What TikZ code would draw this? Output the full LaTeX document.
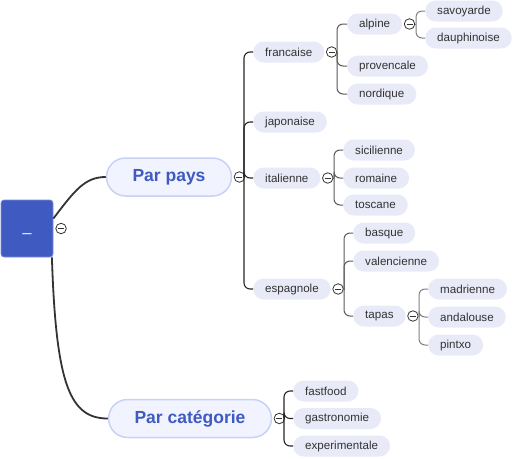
\documentclass[tikz,border=0pt]{standalone}
\usepackage{fontspec}
\setmainfont{Liberation Sans}
\definecolor{rootblue}{HTML}{3F5AC0}
\definecolor{rootedge}{HTML}{7F8FD8}
\definecolor{mainfill}{HTML}{F1F3FE}
\definecolor{mainedge}{HTML}{C8D1F6}
\definecolor{pillfill}{HTML}{E8EAF8}
\definecolor{txt}{HTML}{333333}
\begin{document}
\begin{tikzpicture}[x=1pt,y=-1pt,
  rootbox/.style={draw=rootedge, line width=0.8pt, fill=rootblue, rounded corners=3pt, minimum width=52pt, minimum height=57pt, text=white, font=\fontsize{16}{18}\selectfont, inner sep=0pt},
  mainbox/.style={draw=mainedge, line width=1.5pt, fill=mainfill, rounded corners=19pt, minimum height=38pt, inner xsep=26pt, text=rootblue, font=\fontsize{17.5}{20}\selectfont\bfseries},
  pill/.style={fill=pillfill, rounded corners=10.5pt, minimum height=21pt, inner xsep=12pt, inner ysep=0pt, text=txt, font=\fontsize{11.6}{13}\selectfont, anchor=west},
  collapse/.style={circle, draw=txt, line width=0.8pt, fill=white, minimum size=10.5pt, inner sep=0pt,
    path picture={\draw[line width=1pt] ([xshift=-3pt]path picture bounding box.center) -- ([xshift=3pt]path picture bounding box.center);}},
  rootline/.style={draw=txt, line width=1.8pt},
  lvltwo/.style={draw=black!85, line width=1.1pt, rounded corners=6pt},
  lvlthree/.style={draw=black!65, line width=1pt, rounded corners=6pt},
  lvlfour/.style={draw=black!50, line width=1pt, rounded corners=6pt}
]
\useasboundingbox (0,0) rectangle (513,458);

% root and main topics
\node[rootbox] (root) at (27,228.5) {\raisebox{-9pt}{\_}};
\node[mainbox] (pays) at (169,177) {Par pays};
\node[mainbox] (cat) at (190,418.5) {Par catégorie};

\draw[rootline] ([yshift=10pt]root.east) .. controls (75,190) and (85,177) .. (pays.west);
\draw[rootline] ([xshift=-1.5pt]root.south east) .. controls (56,385) and (70,418.5) .. (cat.west);
\node[collapse, right=2pt] (croot) at (root.east) {};

% level 2 (Par pays)
\node[pill] (francaise) at (253,52) {francaise};
\node[pill] (japonaise) at (253,122) {japonaise};
\node[pill] (italienne) at (253,178) {italienne};
\node[pill] (espagnole) at (253,289) {espagnole};

% francaise
\node[pill] (alpine) at (347,24) {alpine};
\node[pill] (provencale) at (347,66) {provencale};
\node[pill] (nordique) at (347,94) {nordique};
\node[pill] (savoyarde) at (425,11) {savoyarde};
\node[pill] (dauphinoise) at (425,38) {dauphinoise};

% italienne
\node[pill] (sicilienne) at (343,150) {sicilienne};
\node[pill] (romaine) at (343,178) {romaine};
\node[pill] (toscane) at (343,205) {toscane};

% espagnole
\node[pill] (basque) at (353,233) {basque};
\node[pill] (valencienne) at (353,261) {valencienne};
\node[pill] (tapas) at (353,316) {tapas};
\node[pill] (madrienne) at (428,289) {madrienne};
\node[pill] (andalouse) at (428,317) {andalouse};
\node[pill] (pintxo) at (428,345) {pintxo};

% categorie
\node[pill] (fastfood) at (293,391) {fastfood};
\node[pill] (gastronomie) at (293,418.5) {gastronomie};
\node[pill] (experimentale) at (293,446) {experimentale};

% collapse buttons
\node[collapse, right=1.5pt] (cpays) at (pays.east) {};
\node[collapse, right=1.5pt] (ccat) at (cat.east) {};
\node[collapse, right=1.5pt] (cfr) at (francaise.east) {};
\node[collapse, right=1.5pt] (cal) at (alpine.east) {};
\node[collapse, right=1.5pt] (cit) at (italienne.east) {};
\node[collapse, right=1.5pt] (ces) at (espagnole.east) {};
\node[collapse, right=1.5pt] (cta) at (tapas.east) {};

% spines
\coordinate (spays) at (244,177);
\coordinate (scat) at (284,418.5);
\coordinate (sfr) at (337,52);
\coordinate (sal) at (416,24);
\coordinate (sit) at (334,178);
\coordinate (ses) at (344,289);
\coordinate (sta) at (419,316);

\draw[lvltwo] (cpays.east) -- (spays);
\foreach \c in {francaise,japonaise,italienne,espagnole}
  \draw[lvltwo] (spays) |- (\c.west);

\draw[lvltwo] (ccat.east) -- (scat);
\foreach \c in {fastfood,gastronomie,experimentale}
  \draw[lvltwo] (scat) |- (\c.west);

\draw[lvlthree] (cfr.east) -- (sfr);
\foreach \c in {alpine,provencale,nordique}
  \draw[lvlthree] (sfr) |- (\c.west);

\draw[lvlfour] (cal.east) -- (sal);
\foreach \c in {savoyarde,dauphinoise}
  \draw[lvlfour] (sal) |- (\c.west);

\draw[lvlthree] (cit.east) -- (sit);
\foreach \c in {sicilienne,romaine,toscane}
  \draw[lvlthree] (sit) |- (\c.west);

\draw[lvlthree] (ces.east) -- (ses);
\foreach \c in {basque,valencienne,tapas}
  \draw[lvlthree] (ses) |- (\c.west);

\draw[lvlfour] (cta.east) -- (sta);
\foreach \c in {madrienne,andalouse,pintxo}
  \draw[lvlfour] (sta) |- (\c.west);
\end{tikzpicture}
\end{document}
